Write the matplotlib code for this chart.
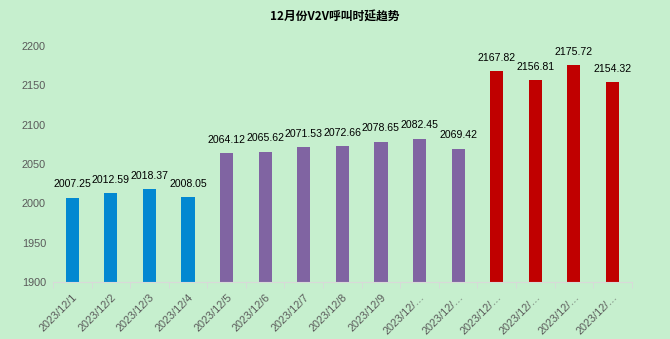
import matplotlib.pyplot as plt
import numpy as np

# December V2V call latency per day
dates = ["2023/12/1", "2023/12/2", "2023/12/3", "2023/12/4", "2023/12/5",
         "2023/12/6", "2023/12/7", "2023/12/8", "2023/12/9", "2023/12/…",
         "2023/12/…", "2023/12/…", "2023/12/…", "2023/12/…", "2023/12/…"]
latency = [2007.25, 2012.59, 2018.37, 2008.05, 2064.12, 2065.62, 2071.53,
           2072.66, 2078.65, 2082.45, 2069.42, 2167.82, 2156.81, 2175.72, 2154.32]
groups = ["blue"] * 4 + ["purple"] * 7 + ["red"] * 4
palette = {"blue": "#0288D1", "purple": "#8064A2", "red": "#C00000"}
yticks = [1900, 1950, 2000, 2050, 2100, 2150, 2200]

bg = "#C6EFCE"
plt.rcParams['font.family'] = ['Liberation Sans', 'Noto Sans CJK SC', 'DejaVu Sans']

fig = plt.figure(figsize=(6.7, 3.39), dpi=100, facecolor=bg)
ax = fig.add_axes([0.079, 0.168, 0.864, 0.696], facecolor=bg)

x = np.arange(len(latency))
colors = [palette[g] for g in groups]
bars = ax.bar(x, latency, width=0.34, color=colors, zorder=2)

for xi, v in zip(x, latency):
    ax.annotate(f"{v:.2f}", (xi, v), xytext=(0, 6), textcoords="offset points",
                ha="center", va="bottom", fontsize=7.6, color="black")

ax.set_xlim(-0.5, len(latency) - 0.5)
ax.set_ylim(1900, 2200)
ax.set_yticks(yticks)
ax.tick_params(axis="y", length=0, labelsize=7.8, labelcolor="#595959", pad=5)

ax.set_xticks(x)
ax.set_xticklabels(dates, rotation=45, ha="right", rotation_mode="anchor",
                   fontsize=7.8, color="#595959")
ax.tick_params(axis="x", length=0, pad=7)
# boundary tick marks between categories
ax.set_xticks(np.arange(-0.5, len(latency)), minor=True)
ax.tick_params(axis="x", which="minor", length=4, color="#D9D9D9")

for side in ["left", "right", "top"]:
    ax.spines[side].set_visible(False)
ax.spines["bottom"].set_color("#D9D9D9")

fig.text(0.5, 0.953, "12月份V2V呼叫时延趋势", ha="center", va="center",
         fontsize=8.5, fontweight="bold", family=['Noto Sans CJK SC', 'DejaVu Sans'])

fig.savefig("out.png", dpi=100, facecolor=bg)
